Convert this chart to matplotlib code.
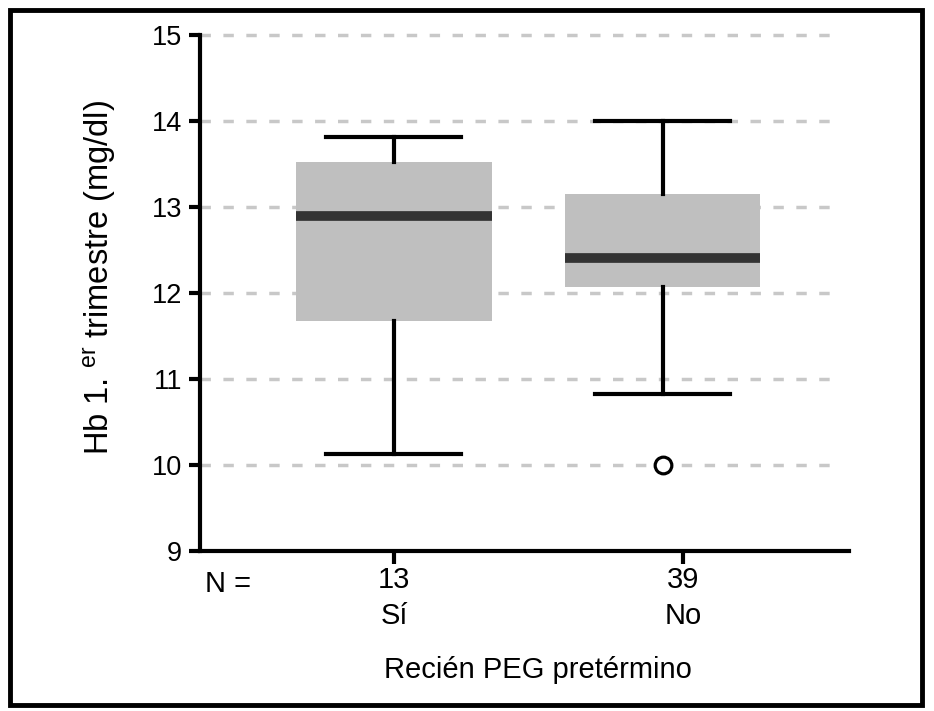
import matplotlib
matplotlib.use("Agg")
import matplotlib.pyplot as plt
from matplotlib.patches import Rectangle

plt.rcParams['font.family'] = ['Liberation Sans', 'DejaVu Sans']
plt.rcParams['mathtext.fontset'] = 'custom'
plt.rcParams['mathtext.rm'] = 'Liberation Sans'
plt.rcParams['mathtext.it'] = 'Liberation Sans:italic'

# datos
grupos = ['Sí', 'No']
n_casos = [13, 39]
bigote_inf = [10.13, 10.83]
q1 = [11.67, 12.07]
mediana = [12.90, 12.41]
q3 = [13.52, 13.15]
bigote_sup = [13.81, 14.0]
atipicos = [[], [10.0]]

stats = []
for i in range(len(grupos)):
    stats.append(dict(label=grupos[i], whislo=bigote_inf[i], q1=q1[i], med=mediana[i],
                      q3=q3[i], whishi=bigote_sup[i], fliers=atipicos[i]))

fig = plt.figure(figsize=(9.34, 7.11), dpi=100)
ax = fig.add_axes([200/934, 1 - 551/711, 649/934, 516/711])

ax.bxp(stats, positions=[1, 1.93], widths=0.675, patch_artist=True, showfliers=True,
       boxprops=dict(facecolor='#bfbfbf', edgecolor='none', linewidth=0),
       medianprops=dict(color='#333333', linewidth=7, solid_capstyle='butt'),
       whiskerprops=dict(color='black', linewidth=3),
       capprops=dict(color='black', linewidth=3),
       capwidths=0.467,
       flierprops=dict(marker='o', markerfacecolor='white', markeredgecolor='black',
                       markersize=12, markeredgewidth=2.3),
       zorder=3)

ax.set_ylim(9, 15)
ax.set_xlim(0.329, 2.574)
ax.set_yticks(range(9, 16))
ax.set_xticks([1, 2])
ax.set_xticklabels([f"{n}\n{g}" for n, g in zip(n_casos, grupos)], linespacing=1.35)

for y in range(10, 16):
    ax.plot([0.329, 2.53], [y, y], color='#c8c8c8', linewidth=2.5,
            linestyle=(0, (3, 3.6)), zorder=1, clip_on=False)

for s in ['top', 'right']:
    ax.spines[s].set_visible(False)
for s in ['left', 'bottom']:
    ax.spines[s].set_linewidth(3)
ax.tick_params(axis='y', length=8, width=3, labelsize=19.5, pad=5)
ax.tick_params(axis='x', length=9, width=3, labelsize=21, pad=2)

ax.text(0.345, 8.78, "N =", fontsize=21, ha='left', va='top')

ax.set_xlabel("Recién PEG pretérmino", fontsize=21)
ax.xaxis.set_label_coords(0.521, -0.231, transform=ax.transAxes)
ax.xaxis.label.set_va('center')
ax.set_ylabel(r"Hb 1.$\ ^{\mathrm{er}}$ trimestre (mg/dl)", fontsize=23.5)
ax.yaxis.set_label_coords(-0.154, 0.53, transform=ax.transAxes)
ax.yaxis.label.set_va('center')

fig.patches.append(Rectangle((9.5/934, 1 - 704.5/711), 912.5/934, 695/711,
                             transform=fig.transFigure, fill=False,
                             edgecolor='black', linewidth=3.5))

fig.savefig("out.png", dpi=100)
